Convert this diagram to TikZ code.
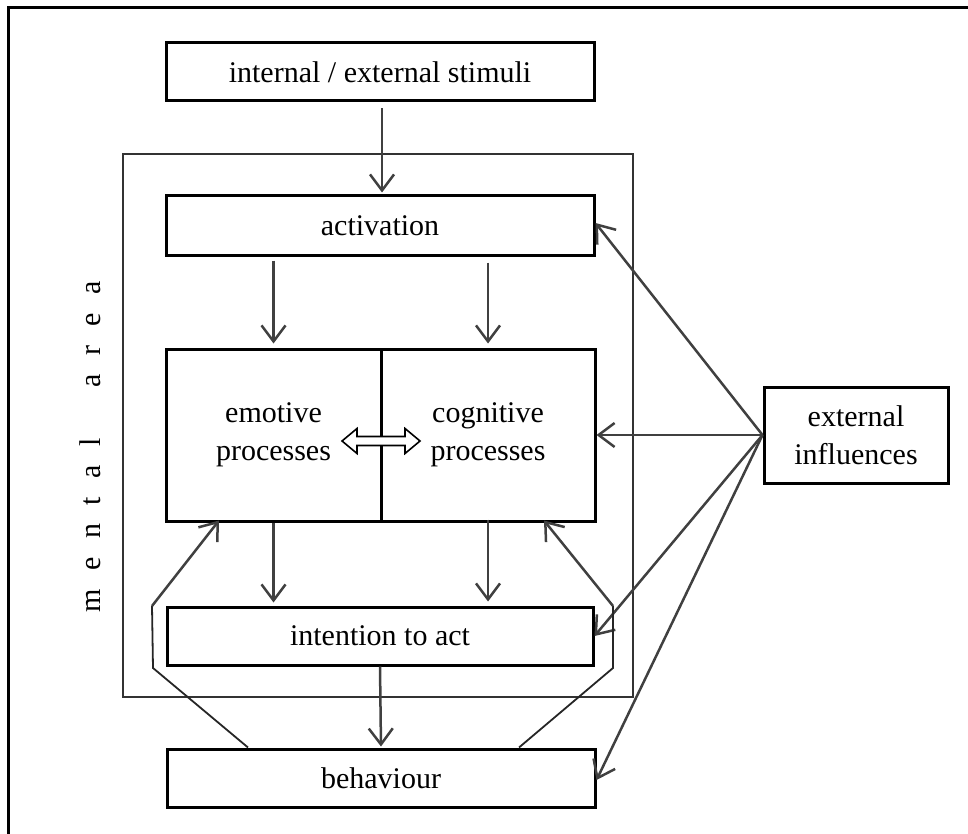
\documentclass[tikz,border=0pt]{standalone}
\usepackage{fontspec}
\setmainfont{Liberation Serif}
\usetikzlibrary{arrows.meta}
\definecolor{arrowgray}{HTML}{404040}
\begin{document}
\begin{tikzpicture}[x=1pt,y=-1pt,
  box/.style={draw=black,line width=3pt,inner sep=0pt,font=\fontsize{30}{37.5}\selectfont,align=center},
  arr/.style={draw=arrowgray,line width=2.5pt,-{Straight Barb[length=16pt,width=24pt,line width=2.5pt]}},
  fb/.style={draw=black!85,line width=1.8pt},
  fbarr/.style={draw=arrowgray,line width=2.5pt,-{Straight Barb[length=16pt,width=24pt,line width=2.5pt]}},
  areabox/.style={draw=black!80,line width=1.6pt,inner sep=0pt}]
\useasboundingbox (0,0) rectangle (968,834);
% outer frame
\draw[line width=2.4pt] (8.5,834) -- (8.5,7.5) -- (968,7.5);
% mental area
\node[areabox,minimum width=510pt,minimum height=543pt] (mental) at (378,425.5) {};
\node[rotate=90,font=\fontsize{30}{36}\selectfont] (mlabel) at (90,447)
  {m\hspace{0.62em}e\hspace{0.62em}n\hspace{0.62em}t\hspace{0.62em}a\hspace{0.62em}l\hspace{1.7em}a\hspace{0.62em}r\hspace{0.62em}e\hspace{0.62em}a};
% boxes
\node[box,minimum width=428pt,minimum height=58pt] (stim) at (380,72) {internal / external stimuli};
\node[box,minimum width=428pt,minimum height=59pt] (act) at (380,225.5) {activation};
\node[box,minimum width=215pt,minimum height=172pt] (emo) at (273.5,435) {emotive\\processes};
\node[box,minimum width=214pt,minimum height=172pt] (cog) at (488,435) {cognitive\\processes};
\node[box,minimum width=426pt,minimum height=58pt] (intent) at (380,636) {intention to act};
\node[box,minimum width=428pt,minimum height=58pt] (beh) at (381,778) {behaviour};
\node[box,minimum width=184pt,minimum height=96pt] (ext) at (856,435) {external\\influences};
% bidirectional arrow
\coordinate (bi) at (381,441);
\draw[black,fill=white,line width=1.6pt,line join=miter]
  ([xshift=-39pt]bi) -- ++(15,-12.5) -- ++(0,8) -- ++(48,0) -- ++(0,-8) -- ++(15,12.5)
  -- ++(-15,12.5) -- ++(0,-8) -- ++(-48,0) -- ++(0,8) -- cycle;
% vertical arrows
\draw[arr,shorten <=6pt,shorten >=2pt] ([xshift=2pt]stim.south) -- ([xshift=2pt]act.north);
\draw[arr,shorten <=4pt,shorten >=4pt] (emo.north |- act.south) -- (emo.north);
\draw[arr,shorten <=6pt,shorten >=4pt] (cog.north |- act.south) -- (cog.north);
\draw[arr,shorten >=3pt] (emo.south) -- (emo.south |- intent.north);
\draw[arr,shorten <=-3pt,shorten >=4pt] (cog.south) -- (cog.south |- intent.north);
\draw[arr,shorten >=1pt] (intent.south) -- (beh.north);
% external influences
\draw[arr] (ext.west) -- ([yshift=2.5pt]act.east);
\draw[arr] (ext.west) -- (cog.east);
\draw[arr] (ext.west) -- (intent.east);
\draw[arr] (ext.west) -- ([yshift=-2pt]beh.east);
% feedback loops
\coordinate (lb) at ([xshift=-133pt]beh.north);
\coordinate (l1) at (153,668);
\coordinate (l2) at (152,606);
\coordinate (lt) at ([xshift=-54.5pt,yshift=2pt]emo.south);
\draw[fb] (lb) -- (l1) -- (l2);
\draw[fbarr] (l2) -- (lt);
\coordinate (rb) at ([xshift=138pt]beh.north);
\coordinate (r1) at (613,668);
\coordinate (r2) at (613,606);
\coordinate (rt) at ([xshift=56pt,yshift=2pt]cog.south);
\draw[fb] (rb) -- (r1) -- (r2);
\draw[fbarr] (r2) -- (rt);
\end{tikzpicture}
\end{document}
